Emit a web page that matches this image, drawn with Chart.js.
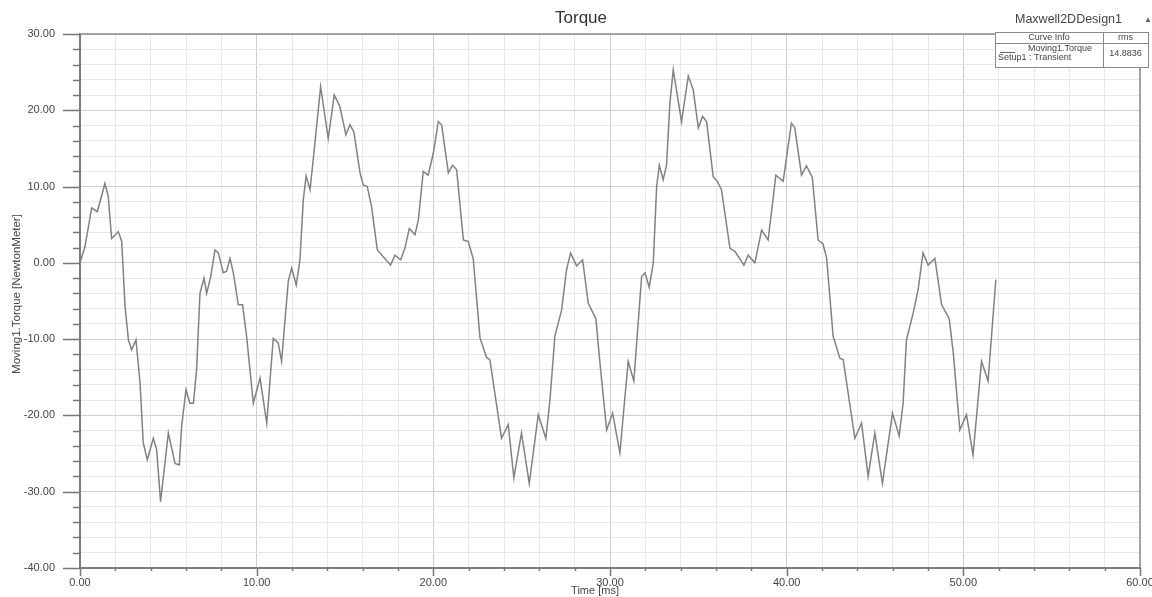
<!DOCTYPE html>
<html><head><meta charset="utf-8">
<script src="https://cdn.jsdelivr.net/npm/chart.js@4/dist/chart.umd.min.js"></script>
<style>html,body{margin:0;padding:0;background:#fff;overflow:hidden}</style>
</head><body>
<canvas id="c" width="1152" height="597"></canvas>
<script>
// ---- data ----
const timeMs = [0.0,0.28,0.66,0.98,1.41,1.6,1.79,2.17,2.36,2.55,2.74,2.92,3.17,3.4,3.58,3.81,4.15,4.34,4.56,5.0,5.38,5.62,5.75,6.0,6.22,6.42,6.6,6.79,7.02,7.17,7.4,7.64,7.83,8.11,8.3,8.49,8.68,8.96,9.2,9.43,9.81,10.19,10.57,10.94,11.22,11.41,11.79,11.98,12.24,12.45,12.64,12.8,13.02,13.2,13.62,14.05,14.39,14.71,15.05,15.28,15.5,15.85,16.03,16.26,16.5,16.83,17.17,17.58,17.83,18.15,18.39,18.64,18.96,19.15,19.43,19.71,20.0,20.28,20.47,20.85,21.09,21.32,21.7,21.98,22.26,22.64,23.01,23.2,23.86,24.24,24.56,24.99,25.43,25.94,26.37,26.6,26.88,27.26,27.54,27.77,28.11,28.45,28.77,29.2,29.43,29.81,30.15,30.56,31.03,31.35,31.79,31.98,32.22,32.45,32.64,32.79,33.01,33.2,33.39,33.58,34.05,34.43,34.71,35.0,35.24,35.47,35.84,36.07,36.31,36.79,37.07,37.58,37.82,38.2,38.58,38.95,39.39,39.8,40.27,40.46,40.84,41.12,41.45,41.78,42.05,42.26,42.63,43.01,43.2,43.86,44.24,44.61,44.99,45.42,45.99,46.37,46.59,46.78,47.16,47.44,47.72,48.01,48.39,48.77,49.2,49.43,49.8,50.18,50.55,51.03,51.4,51.84];
const torqueNm = [0.0,2.1,7.2,6.7,10.4,8.7,3.2,4.1,2.8,-5.7,-10.1,-11.4,-10.1,-15.8,-23.6,-25.8,-23.0,-24.5,-31.3,-22.3,-26.3,-26.5,-21.5,-16.6,-18.4,-18.4,-14.0,-4.0,-2.0,-4.0,-1.8,1.7,1.3,-1.3,-1.1,0.6,-1.3,-5.5,-5.5,-9.6,-18.4,-15.1,-21.0,-9.9,-10.5,-12.9,-2.4,-0.7,-2.9,0.4,8.3,11.4,9.6,13.5,23.1,16.3,22.0,20.5,16.8,18.1,17.2,11.8,10.2,10.0,7.4,1.7,0.8,-0.3,1.0,0.4,1.9,4.5,3.7,5.6,12.0,11.5,14.4,18.5,18.1,11.8,12.8,12.2,3.0,2.8,0.5,-9.8,-12.4,-12.7,-23.0,-21.2,-28.2,-22.3,-28.9,-19.9,-23.0,-18.0,-9.6,-6.2,-0.9,1.3,-0.4,0.4,-5.3,-7.3,-13.1,-21.9,-19.7,-24.9,-12.9,-15.5,-1.8,-1.3,-3.2,0.0,10.0,12.8,10.9,12.8,20.9,25.3,18.5,24.5,22.7,17.7,19.2,18.5,11.3,10.7,9.6,1.9,1.5,-0.3,1.0,0.0,4.3,3.0,11.5,10.7,18.3,17.7,11.5,12.7,11.2,3.0,2.5,0.7,-9.6,-12.5,-12.7,-23.0,-21.0,-28.0,-22.3,-28.9,-19.7,-22.7,-18.4,-10.1,-6.6,-3.5,1.3,-0.3,0.6,-5.5,-7.3,-11.8,-21.9,-19.9,-25.2,-12.9,-15.5,-2.2];
const xRange = [0, 60];
const yRange = [-40, 30];
const tickStep = 2;
const majorStep = 10;
const chartTitle = "Torque";
const designName = "Maxwell2DDesign1";
const xTitle = "Time [ms]";
const yTitle = "Moving1.Torque [NewtonMeter]";
const legendHeader = ["Curve Info", "rms"];
const curveName = "Moving1.Torque";
const curveSetup = "Setup1 : Transient";
const curveRms = "14.8836";

const FONT = '"Liberation Sans", Arial, sans-serif';
const isMajor = v => Math.abs(v % majorStep) < 1e-9;
const gridColor = c => (c.tick && isMajor(c.tick.value)) ? '#cfcfcf' : '#e7e7e7';
const fmt = v => isMajor(v) ? v.toFixed(2) : '';

const decor = {
  id: 'decor',
  afterDraw(chart) {
    const ctx = chart.ctx, a = chart.chartArea;
    const xs = chart.scales.x, ys = chart.scales.y;
    ctx.save();
    // top and right frame
    ctx.strokeStyle = '#8c8c8c'; ctx.lineWidth = 1.5;
    ctx.beginPath();
    ctx.moveTo(a.left, a.top); ctx.lineTo(a.right, a.top); ctx.lineTo(a.right, a.bottom);
    ctx.stroke();
    // ticks
    ctx.strokeStyle = '#777'; ctx.lineWidth = 1.5;
    ys.ticks.forEach(t => {
      const p = Math.round(ys.getPixelForValue(t.value)) + 0.5;
      const len = isMajor(t.value) ? 17 : 7;
      ctx.beginPath(); ctx.moveTo(a.left - len, p); ctx.lineTo(a.left, p); ctx.stroke();
    });
    xs.ticks.forEach(t => {
      const p = Math.round(xs.getPixelForValue(t.value)) + 0.5;
      const len = isMajor(t.value) ? 8 : 3;
      ctx.beginPath(); ctx.moveTo(p, a.bottom); ctx.lineTo(p, a.bottom + len); ctx.stroke();
    });
    // titles
    ctx.fillStyle = '#333';
    ctx.font = '17px ' + FONT; ctx.textAlign = 'center'; ctx.textBaseline = 'middle';
    ctx.fillText(chartTitle, 581, 18);
    ctx.fillStyle = '#444';
    ctx.font = '12.5px ' + FONT; ctx.textAlign = 'left';
    ctx.fillText(designName, 1015, 20);
    ctx.font = '8px ' + FONT; ctx.fillStyle = '#666';
    ctx.fillText('\u25B2', 1144, 20);
    ctx.fillStyle = '#444'; ctx.font = '11px ' + FONT; ctx.textAlign = 'center';
    ctx.fillText(xTitle, 595, 591);
    ctx.save();
    ctx.translate(17, 294); ctx.rotate(-Math.PI / 2);
    ctx.font = '11.5px ' + FONT; ctx.fillText(yTitle, 0, 0);
    ctx.restore();
    // legend table
    const L = 995, R = 1148, T = 32, B = 67, D = 1103, S = 43;
    ctx.fillStyle = '#fff'; ctx.fillRect(L, T, R - L, B - T);
    ctx.strokeStyle = '#8a8a8a'; ctx.lineWidth = 1;
    ctx.strokeRect(L + 0.5, T + 0.5, R - L, B - T);
    ctx.beginPath();
    ctx.moveTo(L, S + 0.5); ctx.lineTo(R, S + 0.5);
    ctx.moveTo(D + 0.5, T); ctx.lineTo(D + 0.5, B);
    ctx.stroke();
    ctx.fillStyle = '#444'; ctx.font = '9px ' + FONT; ctx.textAlign = 'center';
    ctx.fillText(legendHeader[0], (L + D) / 2, 38);
    ctx.fillText(legendHeader[1], (D + R) / 2, 38);
    ctx.fillText(curveName, 1060, 49);
    ctx.fillText(curveRms, (D + R) / 2, 54);
    ctx.textAlign = 'left';
    ctx.fillText(curveSetup, 998, 58);
    ctx.strokeStyle = '#666';
    ctx.beginPath(); ctx.moveTo(1000, 52.5); ctx.lineTo(1015, 52.5); ctx.stroke();
    ctx.restore();
  }
};

new Chart(document.getElementById('c'), {
  type: 'line',
  data: {
    datasets: [{
      label: curveName,
      data: timeMs.map((t, i) => ({ x: t, y: torqueNm[i] })),
      borderColor: '#828282',
      borderWidth: 1.5,
      pointRadius: 0,
      tension: 0,
      fill: false
    }]
  },
  options: {
    responsive: false,
    animation: false,
    devicePixelRatio: 1,
    layout: { padding: { top: 34, right: 12, left: 0, bottom: 0 } },
    plugins: { legend: { display: false }, title: { display: false }, tooltip: { enabled: false } },
    scales: {
      x: {
        type: 'linear', min: xRange[0], max: xRange[1],
        ticks: { stepSize: tickStep, autoSkip: false, maxRotation: 0, callback: fmt,
                 color: '#444', font: { family: FONT, size: 11 }, padding: 4 },
        grid: { color: gridColor, lineWidth: 1, tickLength: 4, tickColor: 'rgba(0,0,0,0)' },
        border: { color: '#7d7d7d', width: 2 },
        afterFit(s) { s.height = 29; s.paddingLeft = 0; s.paddingRight = 0; }
      },
      y: {
        type: 'linear', min: yRange[0], max: yRange[1],
        ticks: { stepSize: tickStep, autoSkip: false, callback: fmt,
                 color: '#444', font: { family: FONT, size: 11 }, padding: 8 },
        grid: { color: gridColor, lineWidth: 1, tickLength: 17, tickColor: 'rgba(0,0,0,0)' },
        border: { color: '#7d7d7d', width: 2 },
        afterFit(s) { s.width = 80; s.paddingTop = 0; s.paddingBottom = 0; }
      }
    }
  },
  plugins: [decor]
});
</script>
</body></html>
